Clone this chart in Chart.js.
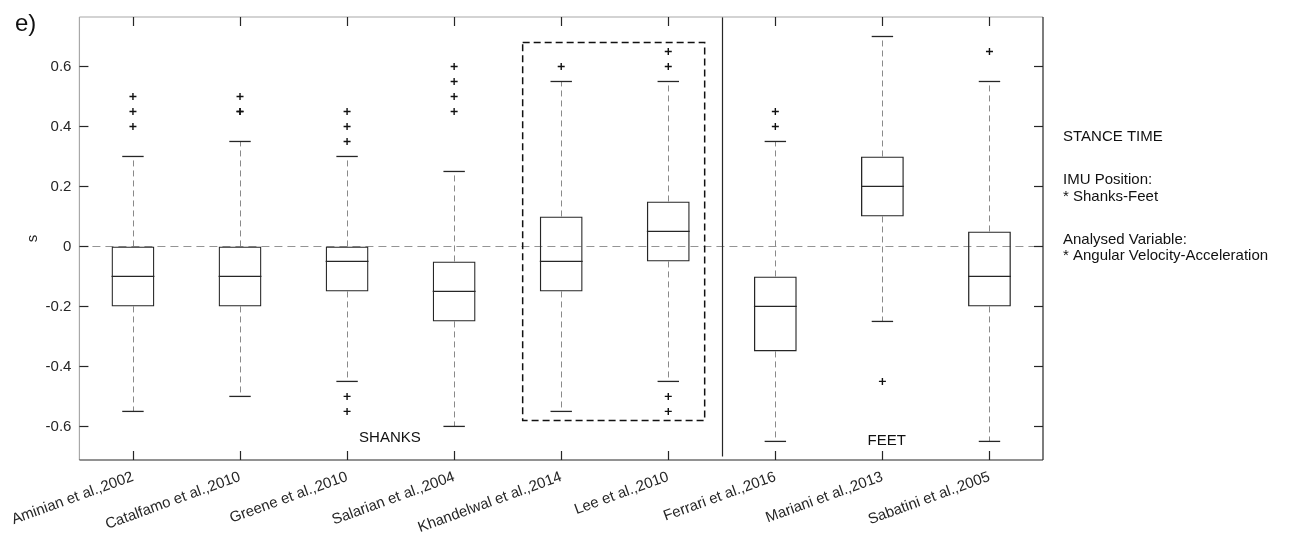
<!DOCTYPE html>
<html>
<head>
<meta charset="utf-8">
<script src="https://cdn.jsdelivr.net/npm/chart.js@4.4.1/dist/chart.umd.min.js"></script>
<style>
  html, body { margin: 0; padding: 0; background: #fff; }
  #wrap { position: relative; width: 1291px; height: 539px; }
</style>
</head>
<body>
<div id="wrap"><canvas id="chart" width="1291" height="539"></canvas></div>
<script>
// Stance time error box plots, shanks vs feet IMU placement.
const categories = [
  'Aminian et al.,2002', 'Catalfamo et al.,2010', 'Greene et al.,2010',
  'Salarian et al.,2004', 'Khandelwal et al.,2014', 'Lee et al.,2010',
  'Ferrari et al.,2016', 'Mariani et al.,2013', 'Sabatini et al.,2005',
];
const q1          = [-0.2, -0.2, -0.15, -0.25, -0.15, -0.05, -0.35, 0.1, -0.2];
const medians     = [-0.1, -0.1, -0.05, -0.15, -0.05, 0.05, -0.2, 0.2, -0.1];
const q3          = [0, 0, 0, -0.05, 0.1, 0.15, -0.1, 0.3, 0.05];
const whiskerLow  = [-0.55, -0.5, -0.45, -0.6, -0.55, -0.45, -0.65, -0.25, -0.65];
const whiskerHigh = [0.3, 0.35, 0.3, 0.25, 0.55, 0.55, 0.35, 0.7, 0.55];
const outliers = [
  [0.5, 0.45, 0.4],
  [0.5, 0.45, 0.45],
  [0.45, 0.4, 0.35, -0.5, -0.55],
  [0.6, 0.55, 0.5, 0.45],
  [0.6],
  [0.65, 0.6, -0.5, -0.55],
  [0.45, 0.4],
  [-0.45],
  [0.65],
];
const yTicks = [-0.6, -0.4, -0.2, 0, 0.2, 0.4, 0.6];
const yLimits = [-0.712, 0.765];

// Annotations: highlighted studies (Khandelwal, Lee), group split, group names.
const highlight = { from: 4, to: 5, low: -0.58, high: 0.68 };
const groupSplitAt = 5.5;
const groupSplitBottom = -0.7;
const groupLabels = [
  { text: 'SHANKS', at: 2.4, y: -0.652 },
  { text: 'FEET', at: 7.04, y: -0.661 },
];
const sideNotes = ['STANCE TIME', '', 'IMU Position:', '* Shanks-Feet', '', 'Analysed Variable:', '* Angular Velocity-Acceleration'];

const FONT = 'Arial, "Liberation Sans", sans-serif';
const DARK = '#262626';
const SIZE = 15;

const seg = (ctx, x1, y1, x2, y2) => {
  ctx.beginPath();
  ctx.moveTo(x1, y1);
  ctx.lineTo(x2, y2);
  ctx.stroke();
};

const boxExtras = {
  id: 'boxExtras',
  beforeDatasetsDraw(chart) {
    const { ctx, chartArea: a, scales: { x, y } } = chart;
    ctx.save();
    // zero reference
    ctx.strokeStyle = '#949494';
    ctx.lineWidth = 1.1;
    ctx.setLineDash([8, 5]);
    const y0 = Math.round(y.getPixelForValue(0)) + 0.5;
    seg(ctx, a.left, y0, a.right, y0);
    // whiskers
    ctx.strokeStyle = '#8a8a8a';
    ctx.lineWidth = 1;
    ctx.setLineDash([6, 4]);
    categories.forEach((c, i) => {
      const px = Math.round(x.getPixelForValue(i)) + 0.5;
      seg(ctx, px, y.getPixelForValue(q3[i]), px, y.getPixelForValue(whiskerHigh[i]));
      seg(ctx, px, y.getPixelForValue(q1[i]), px, y.getPixelForValue(whiskerLow[i]));
    });
    ctx.restore();
  },
  afterDatasetsDraw(chart) {
    const { ctx, chartArea: a, scales: { x, y } } = chart;
    const step = x.getPixelForValue(1) - x.getPixelForValue(0);
    ctx.save();
    ctx.setLineDash([]);
    ctx.strokeStyle = DARK;
    ctx.lineWidth = 1.3;
    categories.forEach((c, i) => {
      const px = x.getPixelForValue(i);
      const capHalf = step * 0.1;
      const boxHalf = step * 0.2;
      seg(ctx, px - capHalf, y.getPixelForValue(whiskerHigh[i]), px + capHalf, y.getPixelForValue(whiskerHigh[i]));
      seg(ctx, px - capHalf, y.getPixelForValue(whiskerLow[i]), px + capHalf, y.getPixelForValue(whiskerLow[i]));
      seg(ctx, px - boxHalf, y.getPixelForValue(medians[i]), px + boxHalf, y.getPixelForValue(medians[i]));
    });

    // dashed frame round the highlighted studies
    ctx.strokeStyle = '#111';
    ctx.lineWidth = 1.5;
    ctx.setLineDash([7, 4]);
    const hx1 = x.getPixelForValue(highlight.from) - step * 0.36;
    const hx2 = x.getPixelForValue(highlight.to) + step * 0.34;
    const hy1 = y.getPixelForValue(highlight.high);
    const hy2 = y.getPixelForValue(highlight.low);
    ctx.strokeRect(hx1, hy1, hx2 - hx1, hy2 - hy1);

    // shanks | feet split
    ctx.setLineDash([]);
    ctx.lineWidth = 1.2;
    ctx.strokeStyle = DARK;
    const sx = Math.round(x.getPixelForValue(groupSplitAt)) + 0.5;
    seg(ctx, sx, a.top, sx, y.getPixelForValue(groupSplitBottom));

    // axes box: light top/left, dark bottom/right, inward ticks
    ctx.lineWidth = 1.2;
    ctx.strokeStyle = '#a8a8a8';
    seg(ctx, a.left, a.top, a.right, a.top);
    seg(ctx, a.left, a.top, a.left, a.bottom);
    ctx.strokeStyle = DARK;
    seg(ctx, a.left, a.bottom, a.right, a.bottom);
    seg(ctx, a.right, a.top, a.right, a.bottom);
    const tl = 9;
    categories.forEach((c, i) => {
      const px = Math.round(x.getPixelForValue(i)) + 0.5;
      seg(ctx, px, a.bottom, px, a.bottom - tl);
      seg(ctx, px, a.top, px, a.top + tl);
    });
    yTicks.forEach(v => {
      const py = Math.round(y.getPixelForValue(v)) + 0.5;
      seg(ctx, a.left, py, a.left + tl, py);
      seg(ctx, a.right, py, a.right - tl, py);
    });

    // group names
    ctx.fillStyle = '#111';
    ctx.font = `${SIZE}px ${FONT}`;
    ctx.textAlign = 'center';
    ctx.textBaseline = 'alphabetic';
    groupLabels.forEach(g => ctx.fillText(g.text, x.getPixelForValue(g.at), y.getPixelForValue(g.y)));
    ctx.restore();
  },
  afterDraw(chart) {
    const { ctx, chartArea: a } = chart;
    ctx.save();
    ctx.fillStyle = '#111';
    ctx.font = `${SIZE}px ${FONT}`;
    ctx.textAlign = 'left';
    ctx.textBaseline = 'alphabetic';
    let by = 141;
    sideNotes.forEach(t => {
      if (t) ctx.fillText(t, a.right + 20, by);
      by += t ? 16.5 : 26.5;
    });
    ctx.font = `24px ${FONT}`;
    ctx.fillText('e)', 15, 31);
    ctx.restore();
  },
};

const outlierPoints = [];
outliers.forEach((list, i) => list.forEach(v => outlierPoints.push({ x: categories[i], y: v })));

new Chart(document.getElementById('chart'), {
  type: 'bar',
  data: {
    labels: categories,
    datasets: [
      {
        type: 'bar',
        data: categories.map((c, i) => [q1[i], q3[i]]),
        backgroundColor: 'rgba(0,0,0,0)',
        borderColor: DARK,
        borderWidth: 1.3,
        borderSkipped: false,
        barPercentage: 0.4,
        categoryPercentage: 1,
      },
      {
        type: 'line',
        data: outlierPoints,
        showLine: false,
        pointStyle: 'cross',
        pointRadius: 3.5,
        pointBorderColor: '#111',
        pointBorderWidth: 1.4,
        pointBackgroundColor: '#111',
      },
    ],
  },
  options: {
    responsive: false,
    devicePixelRatio: 1,
    animation: false,
    events: [],
    layout: { padding: { top: 13, right: 248, left: 0, bottom: 0 } },
    plugins: { legend: { display: false }, tooltip: { enabled: false } },
    scales: {
      x: {
        type: 'category',
        offset: true,
        grid: { display: false, drawTicks: false },
        border: { display: false },
        ticks: {
          autoSkip: false,
          minRotation: 20,
          maxRotation: 20,
          padding: 8,
          color: DARK,
          font: { family: FONT, size: SIZE },
        },
        afterFit: s => { s.height = 79; },
      },
      y: {
        type: 'linear',
        min: yLimits[0],
        max: yLimits[1],
        grid: { display: false, drawTicks: false },
        border: { display: false },
        afterBuildTicks: s => { s.ticks = yTicks.map(v => ({ value: v })); },
        ticks: {
          padding: 8,
          color: DARK,
          font: { family: FONT, size: SIZE },
          callback: v => (v === 0 ? '0' : v.toFixed(1)),
        },
        title: {
          display: true,
          text: 's',
          color: DARK,
          font: { family: FONT, size: SIZE },
          padding: { top: 21, bottom: 0 },
        },
        afterFit: s => { s.width = 77; },
      },
    },
  },
  plugins: [boxExtras],
});
</script>
</body>
</html>
